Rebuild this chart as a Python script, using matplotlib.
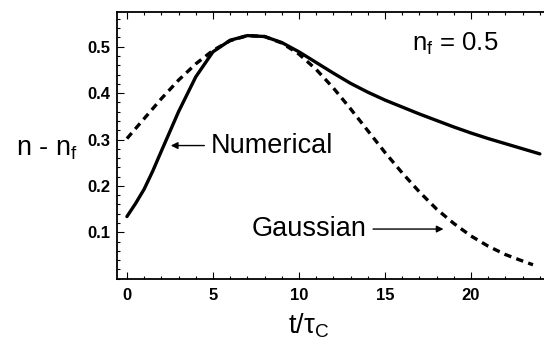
import numpy as np
import matplotlib
matplotlib.use("Agg")
import matplotlib.pyplot as plt
from matplotlib.ticker import MultipleLocator

plt.rcParams["font.family"] = ["Liberation Sans", "DejaVu Sans"]
plt.rcParams["mathtext.fontset"] = "custom"
plt.rcParams["mathtext.rm"] = "Liberation Sans"
plt.rcParams["mathtext.it"] = "Liberation Sans"

# Numerical (solid) curve
num_t = [0.0, 0.5, 1.0, 1.5, 2.0, 3.0, 4.0, 5.0, 6.0, 7.0, 8.0, 9.0, 10.0,
         11.0, 12.0, 13.0, 14.0, 15.0, 16.0, 17.0, 18.0, 19.0, 20.0, 21.0,
         22.0, 23.0, 24.0]
num_n = [0.134, 0.162, 0.193, 0.232, 0.275, 0.360, 0.435, 0.489, 0.514, 0.524,
         0.522, 0.509, 0.489, 0.466, 0.443, 0.421, 0.402, 0.385, 0.370, 0.355,
         0.341, 0.327, 0.314, 0.302, 0.291, 0.280, 0.269]

# Gaussian (dashed) curve
gau_t = [0.0, 1.0, 2.0, 3.0, 4.0, 5.0, 6.0, 7.0, 8.0, 9.0, 10.0, 11.0, 12.0,
         13.0, 14.0, 15.0, 16.0, 17.0, 18.0, 19.0, 20.0, 21.0, 22.0, 23.0, 23.6]
gau_n = [0.302, 0.345, 0.388, 0.428, 0.463, 0.492, 0.513, 0.524, 0.522, 0.508,
         0.484, 0.451, 0.411, 0.366, 0.319, 0.272, 0.228, 0.187, 0.150, 0.119,
         0.092, 0.070, 0.052, 0.038, 0.030]

x_ticks = [0, 5, 10, 15, 20]
y_ticks = [0.1, 0.2, 0.3, 0.4, 0.5]

fig = plt.figure(figsize=(5.44, 3.51), dpi=100)
ax = fig.add_axes([0.215, 0.206, 0.785, 0.760])

ax.plot(num_t, num_n, color="black", lw=2.4, solid_capstyle="round")
ax.plot(gau_t, gau_n, color="black", lw=2.4, dashes=(2.2, 1.6))

ax.set_xlim(-0.58, 24.24)
ax.set_ylim(0.0, 0.575)
ax.xaxis.set_minor_locator(MultipleLocator(1))
ax.yaxis.set_minor_locator(MultipleLocator(0.02))
ax.set_yticks(y_ticks)
ax.set_yticklabels([f"{v:.1f}" for v in y_ticks])
ax.set_xticks(x_ticks)
ax.set_xticklabels([str(v) for v in x_ticks])

ax.spines["right"].set_visible(False)
for s in ("left", "bottom", "top"):
    ax.spines[s].set_linewidth(1.3)
ax.tick_params(which="both", direction="in", top=True, right=False,
               labelsize=12, width=0.8)
ax.tick_params(axis="x", pad=7)
ax.tick_params(axis="y", pad=5)
ax.tick_params(which="major", length=5)
ax.tick_params(which="minor", length=2.5)
for lab in ax.get_xticklabels() + ax.get_yticklabels():
    lab.set_fontweight("bold")

arrow = dict(arrowstyle="-|>", color="black", lw=1.0,
             mutation_scale=10, shrinkA=3, shrinkB=0)
ax.annotate("Numerical", xy=(2.55, 0.287), xytext=(4.9, 0.287),
            fontsize=19.5, va="center", ha="left", arrowprops=arrow)
ax.annotate("Gaussian", xy=(18.4, 0.107), xytext=(13.9, 0.107),
            fontsize=19.5, va="center", ha="right", arrowprops=arrow)
ax.text(16.55, 0.507, r"$\mathregular{n_f}$ = 0.5", fontsize=18.5,
        ha="left", va="center")

fig.text(0.029, 0.575, r"$\mathregular{n}$ - $\mathregular{n_f}$", fontsize=19.5,
         ha="left", va="center")
fig.text(0.568, 0.072, r"$\mathregular{t/\tau_C}$", fontsize=19.5,
         ha="center", va="center")

fig.savefig("out.png", dpi=100)
